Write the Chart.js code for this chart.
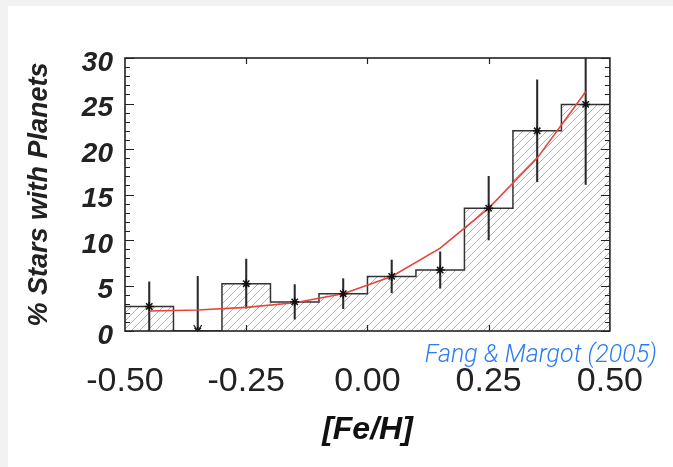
<!DOCTYPE html>
<html lang="en">
<head>
  <meta charset="UTF-8" />
  <title>Stars with Planets vs [Fe/H]</title>
  <script src="https://cdn.jsdelivr.net/npm/chart.js"></script>
  <style>
    body { margin: 0; background: #f2f2f2; width: 673px; height: 467px; overflow: hidden; }
    #panel { position: absolute; left: 8px; top: 6px; width: 665px; height: 461px; background: #fff; }
    .cite { position: absolute; right: 16px; top: 339px; color: #2a7bf5; font-family: Roboto, 'Open Sans', sans-serif;
            font-weight: 300; font-style: italic; font-size: 25px; white-space: nowrap; }
  </style>
</head>
<body>
  <div id="panel"><canvas id="chart"></canvas></div>
  <div class="cite">Fang &amp; Margot (2005)</div>
  <script>
    // histogram bins in [Fe/H]
    const binCenters = [-0.45, -0.35, -0.25, -0.15, -0.05, 0.05, 0.15, 0.25, 0.35, 0.45];
    const binWidth = 0.1;
    // % of stars with planets per bin, and 1-sigma errors
    const pctPlanets = [2.7, 0, 5.2, 3.2, 4.1, 6.0, 6.7, 13.5, 22.0, 24.9];
    const pctErrors  = [2.7, 6.0, 2.7, 1.9, 1.65, 1.8, 2.0, 3.5, 5.6, 8.8];
    const upperLimit = [false, true, false, false, false, false, false, false, false, false];
    // fitted curve at bin centres
    const fitValues  = [2.2, 2.3, 2.6, 3.1, 4.1, 6.0, 9.1, 13.5, 19.0, 26.3];

    const xMin = -0.5, xMax = 0.5, xStep = 0.25;
    const yMin = 0, yMax = 30, yStep = 5;

    // crisp 1px diagonal hatch tile
    function hatch() {
      const c = document.createElement('canvas');
      c.width = 8; c.height = 8;
      const g = c.getContext('2d');
      g.fillStyle = '#fff';
      g.fillRect(0, 0, 8, 8);
      g.fillStyle = '#b9a6e6';
      for (let i = 0; i < 8; i++) g.fillRect(i, 7 - i, 1, 1);
      return g.createPattern(c, 'repeat');
    }

    // histogram outline as stepped line through the bin edges
    const stepPoints = binCenters.map((c, i) => ({ x: c - binWidth / 2, y: pctPlanets[i] }));
    const last = binCenters.length - 1;
    stepPoints.push({ x: binCenters[last] + binWidth / 2, y: pctPlanets[last] });

    const errBars = binCenters.map((c, i) => ({ x: c, y: [Math.max(0, pctPlanets[i] - pctErrors[i]), pctPlanets[i] + pctErrors[i]] }));
    const markers = binCenters.map((c, i) => ({ x: c, y: pctPlanets[i] }));
    const fitLine = binCenters.map((c, i) => ({ x: c, y: fitValues[i] }));

    // frame, inward ticks on all four sides, and upper-limit arrows
    const frameTicks = {
      id: 'frameTicks',
      afterDatasetsDraw(chart) {
        const { ctx, chartArea: a, scales: { x, y } } = chart;
        ctx.save();
        ctx.strokeStyle = '#222';
        ctx.lineWidth = 1.2;
        ctx.beginPath();
        for (let v = y.min; v <= y.max; v += 1) {
          const py = Math.round(y.getPixelForValue(v)) + 0.5;
          const len = v % yStep === 0 ? 9 : 5;
          ctx.moveTo(a.left, py); ctx.lineTo(a.left + len, py);
          ctx.moveTo(a.right, py); ctx.lineTo(a.right - len, py);
        }
        x.ticks.forEach(t => {
          if (t.value <= x.min || t.value >= x.max) return;
          const px = Math.round(x.getPixelForValue(t.value)) + 0.5;
          ctx.moveTo(px, a.bottom); ctx.lineTo(px, a.bottom - 6);
          ctx.moveTo(px, a.top); ctx.lineTo(px, a.top + 6);
        });
        ctx.stroke();

        ctx.lineWidth = 1.3;
        ctx.beginPath();
        upperLimit.forEach((lim, i) => {
          if (!lim) return;
          const px = x.getPixelForValue(binCenters[i]);
          const py = y.getPixelForValue(pctPlanets[i]);
          ctx.moveTo(px - 4, py - 6); ctx.lineTo(px, py); ctx.lineTo(px + 4, py - 6);
        });
        ctx.stroke();

        ctx.lineWidth = 1.6;
        ctx.strokeRect(a.left, a.top, a.width, a.height);
        ctx.restore();
      }
    };

    new Chart(document.getElementById('chart'), {
      type: 'line',
      data: {
        datasets: [
          {
            type: 'line', data: stepPoints, stepped: 'before', fill: 'origin',
            backgroundColor: hatch(), borderColor: '#333', borderWidth: 1.5,
            pointRadius: 0, order: 4
          },
          {
            type: 'bar', data: errBars, backgroundColor: '#2a2a2a', borderWidth: 0,
            barThickness: 1.4, order: 3
          },
          {
            type: 'line', data: fitLine, borderColor: '#e8443a', borderWidth: 1.6,
            pointRadius: 0, tension: 0, fill: false, order: 2
          },
          {
            type: 'scatter', data: markers, pointStyle: 'star', pointRadius: 4.5,
            borderColor: '#111', backgroundColor: '#111', borderWidth: 1.5, order: 1
          }
        ]
      },
      options: {
        responsive: true,
        maintainAspectRatio: false,
        animation: false,
        events: [],
        layout: { padding: { left: 0, top: 52, right: 44, bottom: 0 } },
        plugins: { legend: { display: false }, tooltip: { enabled: false } },
        scales: {
          x: {
            type: 'linear', min: xMin, max: xMax, offset: false,
            grid: { display: false, drawTicks: false },
            border: { display: false },
            afterFit: s => { s.height = 136; },
            ticks: {
              stepSize: xStep, padding: 30, color: '#222', maxRotation: 0, autoSkip: false,
              font: { family: "'Liberation Sans', Arial, sans-serif", size: 34 },
              callback: v => v.toFixed(2)
            },
            title: {
              display: true, text: '[Fe/H]', color: '#111', padding: { bottom: 18 },
              font: { family: "'Liberation Sans', Arial, sans-serif", size: 32, weight: 'bold', style: 'italic' }
            }
          },
          y: {
            type: 'linear', min: yMin, max: yMax,
            grid: { display: false, drawTicks: false },
            border: { display: false },
            afterFit: s => { s.width = 117; },
            ticks: {
              stepSize: yStep, padding: 12, color: '#222', labelOffset: 5,
              font: { family: "'Liberation Sans', Arial, sans-serif", size: 28, weight: 'bold', style: 'italic' }
            },
            title: {
              display: true, text: '% Stars with Planets', color: '#222', padding: { top: 15 },
              font: { family: "'Liberation Sans', Arial, sans-serif", size: 27, weight: 'bold', style: 'italic' }
            }
          }
        }
      },
      plugins: [frameTicks]
    });
  </script>
</body>
</html>
